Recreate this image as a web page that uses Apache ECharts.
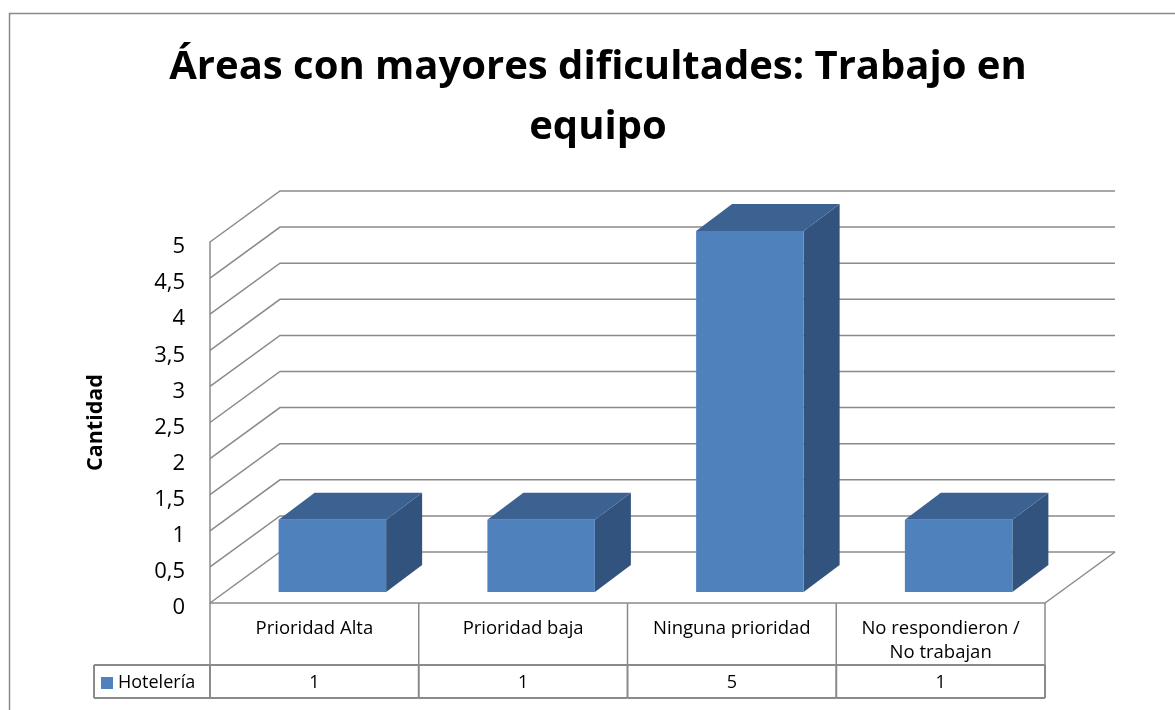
<!DOCTYPE html>
<html>
<head>
<meta charset="utf-8">
<script src="https://cdn.jsdelivr.net/npm/echarts@6/dist/echarts.min.js"></script>
<style>
  html, body { margin: 0; padding: 0; background: #fff; }
  #chart { width: 1175px; height: 710px; }
</style>
</head>
<body>
<div id="chart"></div>
<script>
// Chart data
const categories = ['Prioridad Alta', 'Prioridad baja', 'Ninguna prioridad', 'No respondieron /\nNo trabajan'];
const seriesName = 'Hotelería';
const values = [1, 1, 5, 1];
const yTicks = [0, 0.5, 1, 1.5, 2, 2.5, 3, 3.5, 4, 4.5, 5];
const titleText = 'Áreas con mayores dificultades: Trabajo en\nequipo';
const yName = 'Cantidad';

// 3D look: wall depth and bar placement inside it
const WALL_DX = 70, WALL_DY = 51;
const BAR_OFF_X = 18, BAR_OFF_Y = 11;
const BAR_DX = 36, BAR_DY = 27;
const BAR_RATIO = 0.515;
// data table rows under the plot
const ROW1_H = 62, ROW2_H = 33;
const LEGEND_CELL_W = 116;

const FONT = "'Open Sans', 'Noto Sans', sans-serif";
const LINE = '#8a8a8a';
const C_FRONT = '#4f81bd', C_TOP = '#3c6291', C_SIDE = '#32537d';

const chart = echarts.init(document.getElementById('chart'), null, { renderer: 'canvas' });

function renderWall(params, api) {
  const cs = params.coordSys;
  const v = api.value(1);
  const y = api.coord([0, v])[1];
  const x0 = cs.x, x1 = cs.x + cs.width;
  const style = { stroke: LINE, lineWidth: 1.5, fill: null };
  const children = [{
    type: 'polyline',
    shape: { points: [[x0, y], [x0 + WALL_DX, y - WALL_DY], [x1 + WALL_DX, y - WALL_DY]] },
    style: style
  }];
  if (v === 0) {
    children.push({ type: 'line', shape: { x1: x1 + WALL_DX, y1: y - WALL_DY, x2: x1, y2: y }, style: style });
  }
  return { type: 'group', children: children };
}

function renderBar(params, api) {
  const i = api.value(0), v = api.value(1);
  const base = api.coord([i, 0]);
  const top = api.coord([i, v]);
  const w = api.size([1, 0])[0] * BAR_RATIO;
  const xl = base[0] - w / 2 + BAR_OFF_X, xr = xl + w;
  const yb = base[1] - BAR_OFF_Y, yt = top[1] - BAR_OFF_Y;
  return {
    type: 'group',
    children: [
      { type: 'polygon', shape: { points: [[xr, yt], [xr + BAR_DX, yt - BAR_DY], [xr + BAR_DX, yb - BAR_DY], [xr, yb]] }, style: { fill: C_SIDE } },
      { type: 'polygon', shape: { points: [[xl, yt], [xl + BAR_DX, yt - BAR_DY], [xr + BAR_DX, yt - BAR_DY], [xr, yt]] }, style: { fill: C_TOP } },
      { type: 'rect', shape: { x: xl, y: yt, width: w, height: yb - yt }, style: { fill: C_FRONT } }
    ]
  };
}

function renderTable(params, api) {
  const i = api.value(0), v = api.value(1);
  const base = api.coord([i, 0]);
  const band = api.size([1, 0])[0];
  const xl = base[0] - band / 2, xr = base[0] + band / 2;
  const y0 = base[1], y1 = y0 + ROW1_H, y2 = y1 + ROW2_H;
  const thin = { stroke: LINE, lineWidth: 1.5 };
  const thick = { stroke: LINE, lineWidth: 2 };
  const children = [
    { type: 'line', shape: { x1: xl, y1: y0, x2: xr, y2: y0 }, style: thin },
    { type: 'line', shape: { x1: xl, y1: y0, x2: xl, y2: y1 }, style: thin },
    { type: 'line', shape: { x1: xl, y1: y1, x2: xl, y2: y2 }, style: thick },
    { type: 'line', shape: { x1: xl, y1: y1, x2: xr, y2: y1 }, style: thick },
    { type: 'line', shape: { x1: xl, y1: y2, x2: xr, y2: y2 }, style: thick },
    { type: 'text', style: { x: base[0], y: y1 + ROW2_H / 2 + 1, text: String(v), align: 'center', verticalAlign: 'middle', font: '18px ' + FONT, fill: '#000' } }
  ];
  if (i === categories.length - 1) {
    children.push({ type: 'line', shape: { x1: xr, y1: y0, x2: xr, y2: y1 }, style: thin });
    children.push({ type: 'line', shape: { x1: xr, y1: y1, x2: xr, y2: y2 }, style: thick });
  }
  return { type: 'group', children: children };
}

function renderLegendCell(params, api) {
  const cs = params.coordSys;
  const x1 = cs.x, x0 = x1 - LEGEND_CELL_W;
  const ya = cs.y + cs.height + ROW1_H, yb = ya + ROW2_H;
  const st = { stroke: LINE, lineWidth: 2 };
  return {
    type: 'group',
    children: [
      { type: 'line', shape: { x1: x0, y1: ya, x2: x1, y2: ya }, style: st },
      { type: 'line', shape: { x1: x0, y1: yb, x2: x1, y2: yb }, style: st },
      { type: 'line', shape: { x1: x0, y1: ya, x2: x0, y2: yb }, style: st },
      { type: 'rect', shape: { x: x0 + 7, y: ya + 12, width: 12, height: 12 }, style: { fill: C_FRONT } },
      { type: 'text', style: { x: x0 + 24, y: ya + ROW2_H / 2 + 1, text: seriesName, align: 'left', verticalAlign: 'middle', font: '18px ' + FONT, fill: '#000' } }
    ]
  };
}

const barData = values.map((v, i) => [i, v]);

chart.setOption({
  animation: false,
  backgroundColor: '#fff',
  title: {
    text: titleText,
    left: 598,
    top: 38,
    padding: 0,
    textAlign: 'center',
    textStyle: { fontFamily: FONT, fontSize: 40, fontWeight: 'bold', color: '#000', lineHeight: 60 }
  },
  graphic: [{
    type: 'rect', silent: true, z: -10,
    shape: { x: 9.5, y: 13.5, width: 1300, height: 800 },
    style: { fill: null, stroke: LINE, lineWidth: 1.5 }
  }],
  grid: { left: 210, right: 130, top: 242, bottom: 107 },
  xAxis: {
    type: 'category',
    data: categories,
    axisLine: { show: false },
    axisTick: { show: false },
    splitLine: { show: false },
    axisLabel: { interval: 0, margin: 14, fontFamily: FONT, fontSize: 18.5, lineHeight: 24, color: '#000' }
  },
  yAxis: {
    type: 'value',
    min: 0, max: 5, interval: 0.5,
    name: yName,
    nameLocation: 'middle',
    nameGap: 103,
    nameRotate: 90,
    nameTextStyle: { fontFamily: FONT, fontSize: 21.5, fontWeight: 'bold', color: '#000' },
    axisLine: { show: true, lineStyle: { color: LINE, width: 1.5 } },
    axisTick: { show: false },
    splitLine: { show: false },
    axisLabel: {
      margin: 25, fontFamily: FONT, fontSize: 22, color: '#000',
      verticalAlign: 'top', lineHeight: 10,
      formatter: v => String(v).replace('.', ',')
    }
  },
  series: [
    { type: 'custom', name: 'walls', data: yTicks.map(v => [0, v]), renderItem: renderWall, z: 1, silent: true },
    { type: 'custom', name: seriesName, data: barData, renderItem: renderBar, z: 3 },
    { type: 'custom', name: 'table', data: barData, renderItem: renderTable, z: 4, silent: true },
    { type: 'custom', name: 'legendCell', data: [[0, 0]], renderItem: renderLegendCell, z: 4, silent: true }
  ]
});
</script>
</body>
</html>
